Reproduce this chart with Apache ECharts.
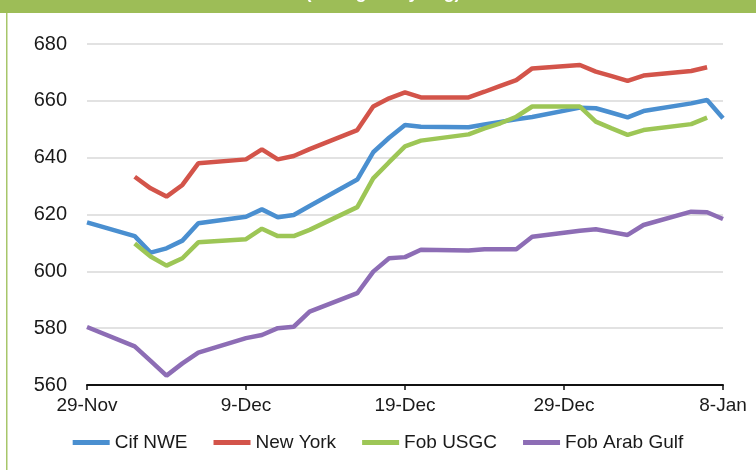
<!DOCTYPE html>
<html>
<head>
<meta charset="utf-8">
<script src="https://cdn.jsdelivr.net/npm/echarts@6/dist/echarts.min.js"></script>
<style>
  html, body { margin: 0; padding: 0; background: #fff; }
  #chart { width: 756px; height: 470px; }
</style>
</head>
<body>
<div id="chart"></div>
<script>
// trading days shown on the chart
const dates = [
  '2013-11-29', '2013-12-02', '2013-12-03', '2013-12-04', '2013-12-05', '2013-12-06',
  '2013-12-09', '2013-12-10', '2013-12-11', '2013-12-12', '2013-12-13',
  '2013-12-16', '2013-12-17', '2013-12-18', '2013-12-19', '2013-12-20',
  '2013-12-23', '2013-12-24', '2013-12-25', '2013-12-26', '2013-12-27',
  '2013-12-30', '2013-12-31', '2014-01-01', '2014-01-02', '2014-01-03',
  '2014-01-06', '2014-01-07', '2014-01-08'
]
const cifNWE = [617.2, 612.4, 606.6, 608.1, 610.8, 616.9, 619.2, 621.8, 619.0, 619.8, 623.0,
  632.3, 641.9, 647.0, 651.5, 650.9, 650.7, 651.7, 652.6, 653.5, 654.3,
  657.6, 657.4, 655.8, 654.2, 656.4, 659.1, 660.3, 653.9]
const newYork = [null, 633.3, 629.2, 626.3, 630.4, 638.0, 639.4, 642.9, 639.4, 640.6, 643.0,
  649.7, 658.0, 660.9, 663.0, 661.2, 661.2, 663.2, 665.3, 667.3, 671.4,
  672.6, 670.3, 668.7, 667.0, 668.9, 670.5, 671.8, null]
const fobUSGC = [null, 609.8, 605.2, 602.0, 604.6, 610.2, 611.3, 615.0, 612.4, 612.4, 614.6,
  622.6, 632.7, 638.4, 644.0, 646.0, 648.2, 650.3, 652.1, 654.4, 658.0,
  658.0, 652.7, 650.3, 648.0, 649.7, 651.8, 654.1, null]
const fobArabGulf = [580.4, 573.6, 568.5, 563.3, 567.6, 571.4, 576.5, 577.6, 580.0, 580.5, 585.8,
  592.3, 599.9, 604.6, 605.0, 607.6, 607.3, 607.8, 607.8, 607.8, 612.2,
  614.3, 614.8, 613.8, 612.8, 616.3, 621.0, 620.8, 618.4]

const tickLabels = ['29-Nov', '9-Dec', '19-Dec', '29-Dec', '8-Jan']
const seriesNames = ['Cif NWE', 'New York', 'Fob USGC', 'Fob Arab Gulf']
const colors = ['#4a8fd0', '#d3544a', '#9dc656', '#8d6db5']

const FONT = "'Liberation Sans', Arial, sans-serif"
const DAY = 86400000
const start = Date.parse(dates[0])

// x = days since first date
function toPairs(values) {
  const out = []
  values.forEach(function (v, i) {
    if (v !== null) out.push([(Date.parse(dates[i]) - start) / DAY, v])
  })
  return out
}

const chart = echarts.init(document.getElementById('chart'))
chart.setOption({
  animation: false,
  color: colors,
  textStyle: { fontFamily: FONT },
  graphic: [
    {
      type: 'rect',
      shape: { x: 0, y: 0, width: 756, height: 13 },
      style: { fill: '#9dbd57' }
    },
    {
      type: 'rect',
      shape: { x: 6, y: 13, width: 1.5, height: 457 },
      style: { fill: '#a7c66a' }
    },
    {
      // title sits above the crop, only its descenders show
      type: 'text',
      x: 383,
      y: 2,
      style: {
        text: '(rolling 5-day avg)',
        fill: '#ffffff',
        font: 'bold 18px ' + FONT,
        align: 'center',
        verticalAlign: 'bottom'
      }
    }
  ],
  grid: {
    left: 87,
    right: 33,
    top: 44,
    bottom: 85
  },
  legend: {
    left: 'center',
    top: 428,
    icon: 'rect',
    itemWidth: 37,
    itemHeight: 5,
    itemGap: 26,
    data: seriesNames,
    textStyle: { fontSize: 19, color: '#1a1a1a', fontFamily: FONT }
  },
  xAxis: {
    type: 'value',
    min: 0,
    max: 40,
    interval: 10,
    splitLine: { show: false },
    axisLine: { lineStyle: { color: '#111', width: 2 } },
    axisTick: { show: true, length: 5, lineStyle: { color: '#111', width: 1.5 } },
    axisLabel: {
      margin: 11,
      fontSize: 19,
      color: '#1a1a1a',
      formatter: function (v) { return tickLabels[v / 10] }
    }
  },
  yAxis: {
    type: 'value',
    min: 560,
    max: 680,
    interval: 20,
    axisLine: { show: false },
    axisTick: { show: false },
    splitLine: { lineStyle: { color: '#d9d9d9', width: 1.5 } },
    axisLabel: { margin: 20, fontSize: 20, color: '#1a1a1a' }
  },
  series: [cifNWE, newYork, fobUSGC, fobArabGulf].map(function (vals, i) {
    return {
      name: seriesNames[i],
      type: 'line',
      symbol: 'none',
      data: toPairs(vals),
      lineStyle: { width: 4.5, color: colors[i] }
    }
  })
})
</script>
</body>
</html>
